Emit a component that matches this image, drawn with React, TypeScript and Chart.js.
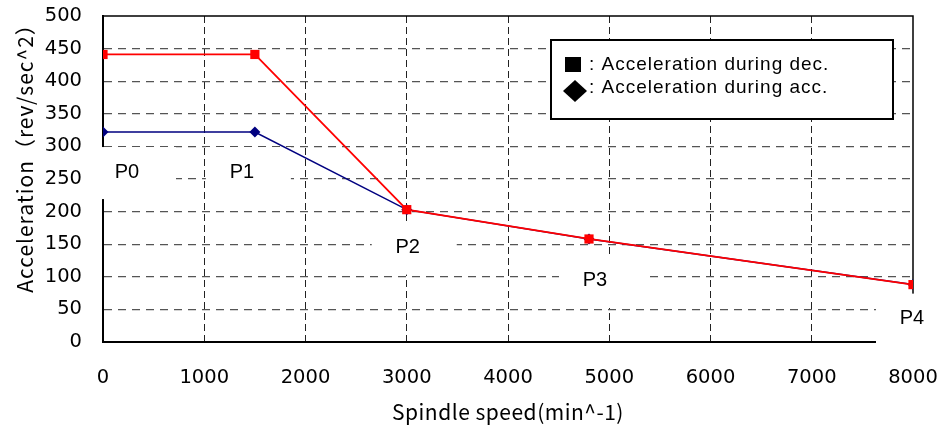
import React, { useEffect, useRef } from 'react';
import { Chart, registerables } from 'chart.js';

Chart.register(...registerables);

// ---- data ----
const speeds = [0, 1500, 3000, 4800, 8000];
const decAccel = [441, 441, 203, 158, 88];
const accAccel = [322, 322, 203, 158, 88];
const pointNames = ['P0', 'P1', 'P2', 'P3', 'P4'];
const legendLabels = [': Acceleration during dec.', ': Acceleration during acc.'];
const xTitle = 'Spindle speed(min^-1)';
const yTitle = 'Acceleration（rev/sec^2）';
const xMin = 0;
const xMax = 8000;
const xStep = 1000;
const yMin = 0;
const yMax = 500;
const yStep = 50;

// ---- style ----
const RED = '#FF0000';
const NAVY = '#000080';
const GOTHIC = '"Noto Sans CJK JP", "Noto Sans", sans-serif';
const TICKFONT = '"DejaVu Sans", "Noto Sans CJK JP", sans-serif';
const ARIAL = '"Liberation Sans", Arial, sans-serif';
// label text offset (px) from the "acc" point, per point
const labelOffsets = [
  [24, 40],
  [-13, 40],
  [1, 38],
  [6, 42],
  [-1, 34],
];

const overlayPlugin = {
  id: 'overlay',
  beforeDatasetsDraw(chart: any) {
    const { ctx, chartArea: a, scales } = chart;
    const xs = scales.x;
    const ys = scales.y;
    ctx.save();
    // top and right frame
    ctx.strokeStyle = '#000';
    ctx.lineWidth = 1.5;
    ctx.beginPath();
    ctx.moveTo(a.left, a.top);
    ctx.lineTo(a.right, a.top);
    ctx.lineTo(a.right, a.bottom);
    ctx.stroke();
    // point label text boxes (white background)
    const centers = speeds.map((s, i) => [
      xs.getPixelForValue(s) + labelOffsets[i][0],
      ys.getPixelForValue(accAccel[i]) + labelOffsets[i][1],
    ]);
    ctx.fillStyle = '#fff';
    centers.forEach(([cx, cy]) => ctx.fillRect(cx - 36, cy - 25, 85, 52));
    ctx.fillStyle = '#000';
    ctx.font = `20px ${ARIAL}`;
    ctx.textAlign = 'center';
    ctx.textBaseline = 'middle';
    centers.forEach(([cx, cy], i) => ctx.fillText(pointNames[i], cx, cy));
    ctx.restore();
  },
  afterDraw(chart: any) {
    const { ctx, chartArea: a } = chart;
    ctx.save();
    // legend box
    const lx = a.left + 448;
    const ly = a.top + 24;
    const lw = 342;
    const lh = 79;
    ctx.fillStyle = '#fff';
    ctx.fillRect(lx, ly, lw, lh);
    ctx.strokeStyle = '#000';
    ctx.lineWidth = 2;
    ctx.strokeRect(lx, ly, lw, lh);
    // markers
    ctx.fillStyle = '#000';
    ctx.fillRect(lx + 14, ly + 17, 16, 15);
    ctx.beginPath();
    const dx = lx + 24;
    const dy = ly + 51;
    ctx.moveTo(dx - 12, dy);
    ctx.lineTo(dx, dy - 11);
    ctx.lineTo(dx + 12, dy);
    ctx.lineTo(dx, dy + 11);
    ctx.closePath();
    ctx.fill();
    ctx.font = `19px ${ARIAL}`;
    (ctx as any).letterSpacing = '1px';
    ctx.textAlign = 'left';
    ctx.textBaseline = 'alphabetic';
    ctx.fillText(legendLabels[0], lx + 38, ly + 30);
    ctx.fillText(legendLabels[1], lx + 38, ly + 53);
    // axis titles
    ctx.font = `21px ${GOTHIC}`;
    ctx.textAlign = 'center';
    ctx.textBaseline = 'middle';
    (ctx as any).letterSpacing = '0.5px';
    ctx.fillText(xTitle, (a.left + a.right) / 2, a.bottom + 70);
    (ctx as any).letterSpacing = '1px';
    ctx.translate(25, a.top + 137);
    ctx.rotate(-Math.PI / 2);
    ctx.fillText(yTitle, 0, 0);
    ctx.restore();
  },
};

export default function App() {
  const canvasRef = useRef<HTMLCanvasElement | null>(null);

  useEffect(() => {
    if (!canvasRef.current) return;
    const chart = new Chart(canvasRef.current, {
      type: 'line',
      data: {
        datasets: [
          {
            label: 'dec',
            data: speeds.map((s, i) => ({ x: s, y: decAccel[i] })),
            borderColor: RED,
            backgroundColor: RED,
            borderWidth: 1.8,
            pointStyle: 'rect',
            pointRadius: 6.5,
            pointBorderWidth: 0,
            pointBackgroundColor: RED,
            order: 0,
          },
          {
            label: 'acc',
            data: speeds.map((s, i) => ({ x: s, y: accAccel[i] })),
            borderColor: NAVY,
            backgroundColor: NAVY,
            borderWidth: 1.5,
            pointStyle: 'rectRot',
            pointRadius: 5.5,
            pointBorderWidth: 0,
            pointBackgroundColor: NAVY,
            order: 1,
          },
        ],
      },
      options: {
        animation: false,
        responsive: true,
        maintainAspectRatio: false,
        layout: { padding: { top: 16, right: 32, left: 0, bottom: 0 } },
        plugins: {
          legend: { display: false },
          tooltip: { enabled: false },
        },
        scales: {
          x: {
            type: 'linear',
            min: xMin,
            max: xMax,
            afterFit: (s: any) => {
              s.height = 84;
              s.paddingLeft = 0;
              s.paddingRight = 0;
            },
            ticks: {
              stepSize: xStep,
              padding: 24,
              color: '#000',
              font: { family: TICKFONT, size: 19.5 },
              maxRotation: 0,
              callback: (v: any) => String(v),
            },
            grid: {
              color: (c: any) => (c.tick && (c.tick.value === xMin || c.tick.value === xMax) ? 'rgba(0,0,0,0)' : '#222'),
              lineWidth: 1,
              drawTicks: false,
            },
            border: { display: true, color: '#000', width: 2, dash: [7, 4] },
          },
          y: {
            type: 'linear',
            min: yMin,
            max: yMax,
            afterFit: (s: any) => {
              s.width = 103;
              s.paddingTop = 0;
              s.paddingBottom = 0;
            },
            ticks: {
              stepSize: yStep,
              padding: 21,
              color: '#000',
              font: { family: TICKFONT, size: 19.5 },
              callback: (v: any) => String(v),
            },
            grid: {
              color: (c: any) => (c.tick && (c.tick.value === yMin || c.tick.value === yMax) ? 'rgba(0,0,0,0)' : '#555'),
              lineWidth: 1.2,
              drawTicks: false,
            },
            border: { display: true, color: '#000', width: 2, dash: [8, 6] },
          },
        },
      },
      plugins: [overlayPlugin],
    });
    return () => chart.destroy();
  }, []);

  return (
    <div style={{ position: 'fixed', left: 0, top: 0, width: 945, height: 426, background: '#fff' }}>
      <canvas ref={canvasRef} />
    </div>
  );
}
